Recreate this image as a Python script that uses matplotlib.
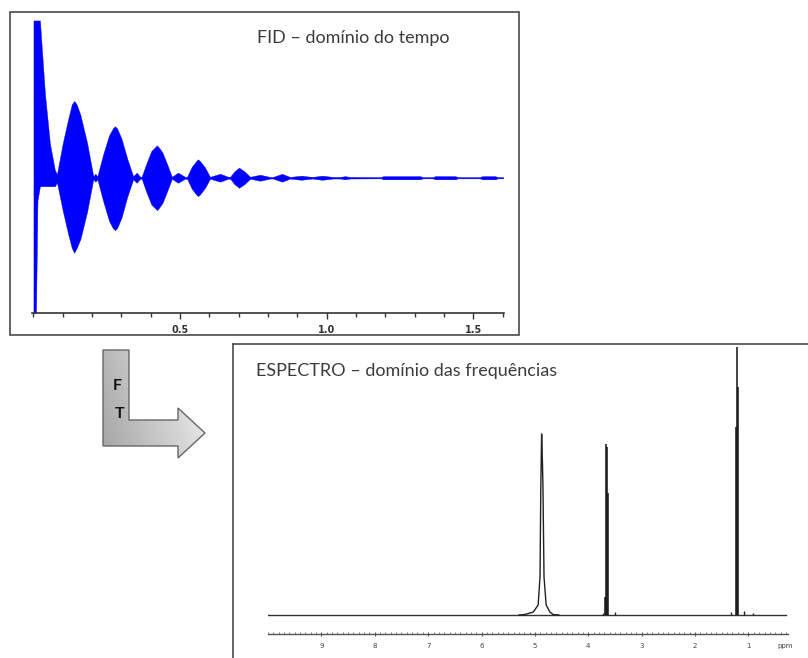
import numpy as np
import matplotlib
matplotlib.use("Agg")
import matplotlib.pyplot as plt
from matplotlib.patches import Polygon, Rectangle
from matplotlib.colors import LinearSegmentedColormap
from matplotlib.ticker import MultipleLocator

# FID envelope (time in s, amplitude relative to first point)
fid_t = [0.000, 0.0085, 0.0137, 0.022, 0.039, 0.056, 0.073, 0.080,
         0.100, 0.118, 0.131, 0.139, 0.147, 0.160, 0.183, 0.204,
         0.211, 0.218,
         0.238, 0.258, 0.271, 0.278, 0.285, 0.300, 0.320, 0.340,
         0.352, 0.364,
         0.369, 0.385, 0.402, 0.415, 0.421, 0.427, 0.440, 0.457, 0.472,
         0.493, 0.517,
         0.524, 0.540, 0.556, 0.561, 0.567, 0.585, 0.602,
         0.637, 0.664,
         0.671, 0.685, 0.701, 0.720, 0.739,
         0.773, 0.807,
         0.817, 0.848, 0.875,
         0.913, 0.951,
         0.985, 1.022,
         1.046, 1.063, 1.080,
         1.185, 1.193, 1.319, 1.327,
         1.362, 1.370, 1.439, 1.447,
         1.523, 1.531, 1.575, 1.583,
         1.602]
fid_top = [1.0, 1.0, 1.0, 1.0, 0.537, 0.219, 0.048, 0.022,
           0.220, 0.370, 0.467, 0.488, 0.467, 0.400, 0.220, 0.0095,
           0.025, 0.0095,
           0.150, 0.270, 0.314, 0.327, 0.314, 0.250, 0.120, 0.0095,
           0.032, 0.006,
           0.006, 0.090, 0.170, 0.194, 0.206, 0.194, 0.160, 0.080, 0.006,
           0.032, 0.006,
           0.006, 0.070, 0.108, 0.117, 0.108, 0.065, 0.006,
           0.025, 0.006,
           0.006, 0.040, 0.064, 0.040, 0.006,
           0.019, 0.005,
           0.005, 0.025, 0.005,
           0.013, 0.005,
           0.013, 0.005,
           0.005, 0.010, 0.005,
           0.004, 0.010, 0.010, 0.004,
           0.004, 0.010, 0.010, 0.004,
           0.004, 0.010, 0.010, 0.004,
           0.004]
fid_bottom = [-0.86, -0.86, -0.143, -0.054, -0.054, -0.054, -0.054, -0.029,
              -0.210, -0.355, -0.448, -0.477, -0.448, -0.390, -0.215, -0.0095,
              -0.025, -0.0095,
              -0.150, -0.275, -0.321, -0.333, -0.321, -0.255, -0.120, -0.0095,
              -0.032, -0.006,
              -0.006, -0.090, -0.170, -0.194, -0.206, -0.194, -0.160, -0.080, -0.006,
              -0.032, -0.006,
              -0.006, -0.070, -0.108, -0.117, -0.108, -0.065, -0.006,
              -0.025, -0.006,
              -0.006, -0.040, -0.064, -0.040, -0.006,
              -0.019, -0.005,
              -0.005, -0.025, -0.005,
              -0.013, -0.005,
              -0.013, -0.005,
              -0.005, -0.010, -0.005,
              -0.004, -0.010, -0.010, -0.004,
              -0.004, -0.010, -0.010, -0.004,
              -0.004, -0.010, -0.010, -0.004,
              -0.004]
fid_ticks = [0.5, 1.0, 1.5]
fid_labels = ["0.5", "1.0", "1.5"]

# 1H spectrum (ppm, intensity in arbitrary units)
base_ppm = [10.0, 0.30]
base_int = [0, 0]
hdo_ppm = [5.30, 5.19, 5.03, 4.94, 4.905, 4.89, 4.875, 4.86, 4.85, 4.83, 4.79, 4.72, 4.66, 4.55]
hdo_int = [0, 0.5, 3, 10, 38, 128, 181, 154, 128, 38, 10, 3, 0.5, 0]
quartet_ppm = [3.69, 3.665, 3.650, 3.635]
quartet_int = [18, 171, 168, 122]
triplet_ppm = [1.235, 1.215, 1.200]
triplet_int = [188, 268, 228]
small_ppm = [3.73, 3.50, 1.33, 1.09, 0.92]
small_int = [2, 3, 3, 4, 2]
ppm_ticks = [9, 8, 7, 6, 5, 4, 3, 2, 1]

fid_title = "FID \u2013 dom\u00ednio do tempo"
spec_title = "ESPECTRO \u2013 dom\u00ednio das frequ\u00eancias"

W, H = 808, 658
fig = plt.figure(figsize=(W / 100, H / 100), dpi=100)

# overlay in pixel coords for frames, arrow and titles
ov = fig.add_axes([0, 0, 1, 1])
ov.set_xlim(0, W)
ov.set_ylim(H, 0)
ov.axis("off")

frame_col = "#4a4a4a"
ov.add_patch(Rectangle((10, 11.7), 509, 323.3, fill=False, ec=frame_col, lw=1.2))
ov.plot([233, 233], [343.5, 670], color=frame_col, lw=1.2, clip_on=False)
ov.plot([233, 815], [343.5, 343.5], color=frame_col, lw=1.2, clip_on=False)

# FT arrow with grey gradient
arrow_xy = [(103, 350), (129, 350), (129, 420), (178, 420), (178, 408),
            (205, 433), (178, 458), (178, 446), (103, 446)]
clip = Polygon(arrow_xy, closed=True, fc="none", ec="none")
ov.add_patch(clip)
gx, gy = np.meshgrid(np.linspace(0, 1, 120), np.linspace(0, 1, 120))
grad = 0.75 * gx + 0.25 * (1 - gy)
cmap = LinearSegmentedColormap.from_list("g", ["#a4a4a4", "#f3f3f3"])
im = ov.imshow(grad, extent=(103, 205, 458, 350), cmap=cmap, aspect="auto",
               origin="upper", vmin=0, vmax=1)
im.set_clip_path(clip)
ov.add_patch(Polygon(arrow_xy, closed=True, fc="none", ec="#666666", lw=1.0))
ov.text(117.5, 390, "F", ha="center", va="baseline", fontsize=11.5,
        fontweight="bold", family="Lato", color="#111111")
ov.text(119.5, 418.3, "T", ha="center", va="baseline", fontsize=11.5,
        fontweight="bold", family="Lato", color="#111111")

ov.text(257, 43.3, fid_title, ha="left", va="baseline", fontsize=13,
        family="Lato", color="#3c3c3c")
ov.text(256.5, 376, spec_title, ha="left", va="baseline", fontsize=13,
        family="Lato", color="#3c3c3c")

# FID panel
ax1 = fig.add_axes([31.7 / W, (H - 313.3) / H, (504 - 31.7) / W, (313.3 - 20) / H])
ax1.set_facecolor("none")
ax1.fill_between(fid_t, fid_bottom, fid_top, color="#0000ff", lw=0.3, ec="#0000ff")
ax1.set_xlim(-0.006, 1.605)
ax1.set_ylim(-0.862, 1.003)
for s in ["top", "left", "right"]:
    ax1.spines[s].set_visible(False)
ax1.spines["bottom"].set_color("#333333")
ax1.spines["bottom"].set_linewidth(1.2)
ax1.set_yticks([])
ax1.set_xticks(fid_ticks)
ax1.set_xticklabels(fid_labels)
ax1.xaxis.set_minor_locator(MultipleLocator(0.1))
ax1.tick_params(axis="x", which="major", direction="out", length=4.3, width=1.0,
                color="#333333", pad=4, labelsize=7)
ax1.tick_params(axis="x", which="minor", direction="out", length=3.0, width=1.0,
                color="#333333")
for lab in ax1.get_xticklabels():
    lab.set_fontweight("bold")
    lab.set_color("#333333")

# spectrum panel
ax2 = fig.add_axes([268 / W, (H - 634) / H, (788 - 268) / W, (634 - 344) / H])
ax2.set_facecolor("none")
ax2.plot(base_ppm, base_int, color="#333333", lw=1.0)
ax2.plot(hdo_ppm, hdo_int, color="#222222", lw=1.0)
ax2.vlines(quartet_ppm, 0, quartet_int, color="#111111", lw=1.1)
ax2.vlines(triplet_ppm, 0, triplet_int, color="#111111", lw=1.1)
ax2.vlines(small_ppm, 0, small_int, color="#222222", lw=1.0)
ax2.set_xlim(10.0, 0.26)
ax2.set_ylim(-19, 271)
for s in ["top", "left", "right"]:
    ax2.spines[s].set_visible(False)
ax2.spines["bottom"].set_color("#555555")
ax2.spines["bottom"].set_linewidth(1.0)
ax2.set_yticks([])
ax2.set_xticks(ppm_ticks)
ax2.set_xticklabels([str(v) for v in ppm_ticks])
ax2.xaxis.set_minor_locator(MultipleLocator(0.1))
ax2.tick_params(axis="x", which="major", direction="inout", length=3.5, width=0.8,
                color="#555555", pad=4.5, labelsize=5, labelcolor="#444444")
ax2.tick_params(axis="x", which="minor", direction="in", length=1.6, width=0.6,
                color="#666666")
ax2.set_xlabel("ppm", fontsize=5, color="#444444", ha="center", va="top")
ax2.xaxis.set_label_coords(0.994, -0.03)

fig.savefig("out.png", dpi=100)
